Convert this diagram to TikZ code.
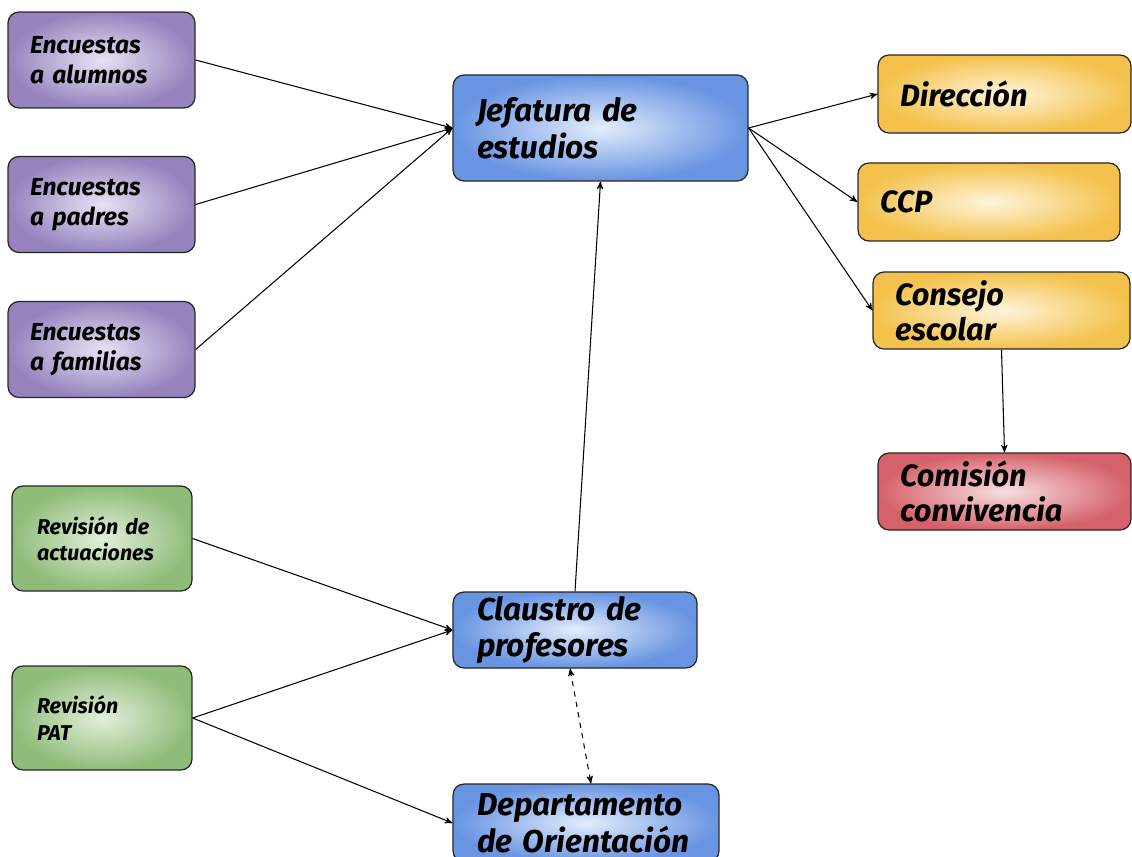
\documentclass[tikz,border=0pt]{standalone}
\usepackage{fontspec}
\setmainfont{Fira Sans}
\usetikzlibrary{arrows}
\definecolor{lilaout}{RGB}{150,131,190}
\definecolor{lilain}{RGB}{232,226,243}
\definecolor{azulout}{RGB}{104,148,226}
\definecolor{azulin}{RGB}{228,237,251}
\definecolor{oroout}{RGB}{244,194,76}
\definecolor{oroin}{RGB}{254,244,220}
\definecolor{rojoout}{RGB}{213,98,106}
\definecolor{rojoin}{RGB}{247,223,226}
\definecolor{verdeout}{RGB}{143,188,121}
\definecolor{verdein}{RGB}{226,239,218}
\begin{document}
\begin{tikzpicture}[x=0.02cm,y=-0.02cm,
	caja/.style={draw=black!85, line width=0.7pt, rounded corners=0.22cm, align=left,
		inner xsep=0.46cm, inner ysep=0pt, shading=radial},
	encuesta/.style={caja, inner color=lilain, outer color=lilaout, inner xsep=0.44cm,
		text width=2.86cm, minimum height=1.92cm, font=\fontsize{14}{17}\selectfont\bfseries\itshape},
	revision/.style={caja, inner color=verdein, outer color=verdeout, inner xsep=0.5cm,
		text width=2.6cm, minimum height=2.1cm, font=\fontsize{12.2}{15}\selectfont\bfseries\itshape},
	organo/.style={caja, inner color=azulin, outer color=azulout, inner xsep=0.48cm,
		font=\fontsize{18}{21}\selectfont\bfseries\itshape},
	consejo/.style={caja, inner color=oroin, outer color=oroout, inner xsep=0.44cm,
		minimum height=1.56cm, font=\fontsize{17.5}{20}\selectfont\bfseries\itshape},
	comision/.style={caja, inner color=rojoin, outer color=rojoout, inner xsep=0.44cm,
		minimum height=1.54cm, font=\fontsize{17.5}{20}\selectfont\bfseries\itshape},
	flecha/.style={->, >=stealth', line width=0.6pt}]
\useasboundingbox (0,0) rectangle (1132,856);

% encuestas
\node[encuesta] (alumnos) at (101.5,60) {Encuestas\\a alumnos};
\node[encuesta] (padres) at (101.5,204.5) {Encuestas\\a padres};
\node[encuesta] (familias) at (101.5,349.5) {Encuestas\\a familias};

% organos
\node[organo, text width=4.94cm, minimum height=2.12cm] (jefatura) at (600.5,128) {Jefatura de\\estudios};
\node[organo, text width=3.92cm, minimum height=1.52cm] (claustro) at (575,630) {Claustro de\\profesores};
\node[organo, text width=4.36cm, minimum height=1.56cm] (orientacion) at (586,823) {Departamento\\de Orientación};

\node[consejo, text width=4.18cm] (direccion) at (1004.5,94) {Dirección};
\node[consejo, text width=4.36cm] (ccp) at (989,202) {CCP};
\node[consejo, text width=4.26cm, minimum height=1.54cm] (escolar) at (1001.5,310.5) {Consejo\\escolar};
\node[comision, text width=4.18cm] (convivencia) at (1004.5,491.5) {Comisión\\convivencia};

% revisiones
\node[revision] (actuaciones) at (102,538.5) {Revisión de\\actuaciones};
\node[revision, minimum height=2.08cm] (pat) at (102,718) {Revisión\\PAT};

\draw[flecha] (alumnos.east) -- (jefatura.west);
\draw[flecha] (padres.east) -- (jefatura.west);
\draw[flecha] (familias.east) -- (jefatura.west);
\draw[flecha] (jefatura.east) -- (direccion.west);
\draw[flecha] (jefatura.east) -- (ccp.west);
\draw[flecha] (jefatura.east) -- (escolar.west);
\draw[flecha] (escolar.south) -- (convivencia.north);
\draw[flecha] (claustro.north) -- (jefatura.south);
\draw[flecha] (actuaciones.east) -- (claustro.west);
\draw[flecha] (pat.east) -- (claustro.west);
\draw[flecha] (pat.east) -- (orientacion.west);
\draw[flecha, <->, dashed] ([xshift=-0.1cm]claustro.south) -- ([xshift=0.1cm]orientacion.north);
\end{tikzpicture}
\end{document}
